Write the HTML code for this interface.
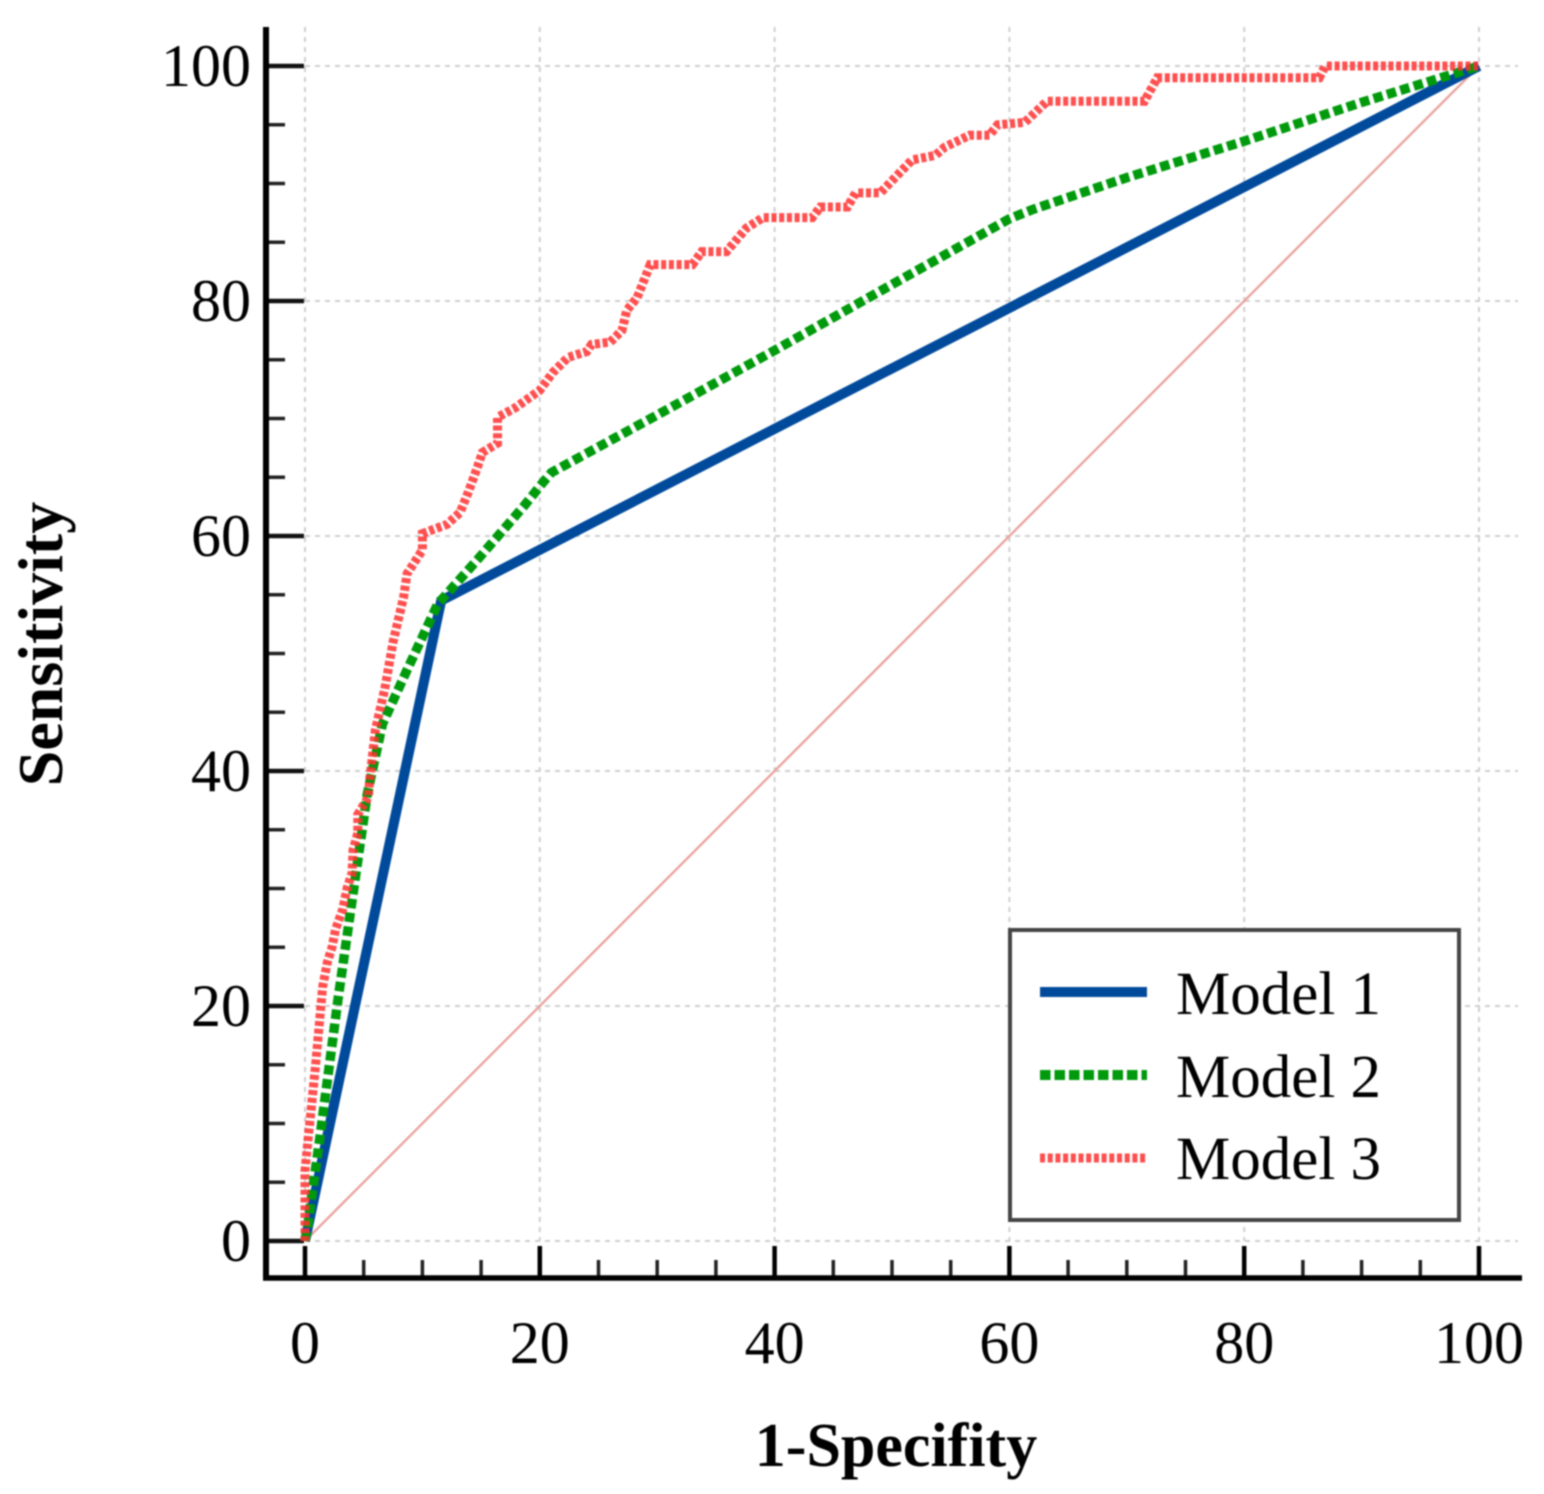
<!DOCTYPE html>
<html lang="en">
<head>
<meta charset="utf-8">
<title>ROC curves</title>
<style>
html,body{margin:0;padding:0;background:#fff;width:1544px;height:1494px;overflow:hidden}
svg{display:block;filter:blur(0.8px)}
text{font-family:"Liberation Serif","Times New Roman",serif;fill:#000}
</style>
</head>
<body>
<svg id="chart" xmlns="http://www.w3.org/2000/svg" width="1544" height="1494" viewBox="0 0 1544 1494">
  <rect width="1544" height="1494" fill="#fff"/>
  <g id="grid"></g>
  <g id="ticks"></g>
  <g id="labels"></g>
  <g id="series"></g>
  <line x1="266" y1="27" x2="266" y2="1280" stroke="#000" stroke-width="6"/>
  <line x1="263" y1="1278" x2="1522" y2="1278" stroke="#000" stroke-width="5.5"/>
  <text x="896" y="1466" font-size="62" font-weight="bold" text-anchor="middle">1-Specifity</text>
  <text transform="translate(62 644) rotate(-90)" font-size="64" font-weight="bold" text-anchor="middle">Sensitivity</text>
  <g>
    <rect x="1010" y="930" width="449" height="290" fill="#fff" stroke="#444" stroke-width="4"/>
    <line x1="1040" y1="992" x2="1147" y2="992" stroke="#004a9c" stroke-width="10"/>
    <line x1="1040" y1="1075" x2="1147" y2="1075" stroke="#009a0c" stroke-width="10" stroke-dasharray="10.5 4"/>
    <line x1="1040" y1="1158" x2="1147" y2="1158" stroke="#ff3030" stroke-width="9" stroke-dasharray="5 2.7" opacity="0.85"/>
    <text x="1176" y="1014" font-size="61">Model 1</text>
    <text x="1176" y="1097" font-size="61">Model 2</text>
    <text x="1176" y="1179" font-size="61">Model 3</text>
  </g>
</svg>
<script>
// Chart data
const xTickLabels = [0, 20, 40, 60, 80, 100];
const yTickLabels = [0, 20, 40, 60, 80, 100];
const minorTicks = [5, 10, 15, 25, 30, 35, 45, 50, 55, 65, 70, 75, 85, 90, 95];
const referenceX = [0, 100];
const referenceY = [0, 100];
const model1X = [0, 11.6, 100];
const model1Y = [0, 54.5, 100];
const model2X = [0, 0.2, 0.6, 1.2, 2.8, 5.3, 6.6, 8.7, 11.3, 14.7, 18.7, 20.3, 21, 30, 40, 50, 60, 62, 70, 80, 90, 100];
const model2Y = [0, 1, 4, 8.3, 20.5, 38, 44, 48.6, 54.2, 58, 62.6, 64.6, 65.4, 70.3, 75.8, 81.4, 87, 87.8, 90.5, 93.6, 96.9, 100];
const model3X = [0, 0, 0.2, 0.5, 0.9, 1.3, 1.5, 1.9, 2.3, 2.6, 3.2, 3.6, 4, 4.1, 4.5, 4.5, 5.4, 5.5, 6, 6.8, 7.5, 8.4, 8.7, 10, 10, 12.1, 13.2, 13.9, 14.7, 15.1, 16.4, 16.4, 17.9, 20, 21.1, 22.4, 24, 24.4, 26, 27, 27.4, 28.3, 29.4, 33, 33.8, 35.9, 37.6, 39, 43.2, 43.9, 46.2, 46.9, 49, 51.7, 53.7, 54.5, 56.6, 58.3, 59, 61.3, 63.2, 71.5, 72.6, 86.4, 86.9, 100];
const model3Y = [0, 6, 8, 11, 15, 19.4, 21.6, 23.7, 25, 26.5, 28.2, 30.1, 31.3, 33.3, 34.7, 36.3, 37.8, 39.2, 43.5, 47, 51, 54.8, 56.8, 58.8, 60.2, 61, 62, 63.7, 65.9, 67.1, 67.9, 70.1, 70.9, 72.4, 73.9, 75.2, 75.7, 76.3, 76.5, 77.5, 79.2, 80.3, 83.1, 83.1, 84.2, 84.2, 86.2, 87.1, 87.1, 88, 88, 89.2, 89.2, 92, 92.4, 93.1, 94.1, 94.1, 95, 95.2, 97, 97, 99, 99, 100, 100];

const SVG_NS = 'http://www.w3.org/2000/svg';
const xPos = v => 305 + v * 11.74;
const yPos = v => 1241 - v * 11.75;

function make(tag, parent, props, text) {
  const el = document.createElementNS(SVG_NS, tag);
  for (const k in props) el.setAttribute(k, props[k]);
  if (text !== undefined) el.textContent = text;
  parent.appendChild(el);
  return el;
}
const gridG = document.getElementById('grid');
const ticksG = document.getElementById('ticks');
const labelsG = document.getElementById('labels');
const seriesG = document.getElementById('series');

xTickLabels.forEach(v => {
  const g = make('line', gridG, {x1: xPos(v), x2: xPos(v), y1: 27, y2: 1241, stroke: '#cfcfcf', 'stroke-width': 2, 'stroke-dasharray': '5 5'});
  
  
  const t = make('line', ticksG, {x1: xPos(v), x2: xPos(v), y1: 1246, y2: 1278, stroke: '#000', 'stroke-width': 4.5});
  
  
  const l = make('text', labelsG, {x: xPos(v), y: 1363, 'font-size': 60, 'text-anchor': 'middle'}, v);
  
  
});
yTickLabels.forEach(v => {
  const g = make('line', gridG, {x1: 305, x2: 1518, y1: yPos(v), y2: yPos(v), stroke: '#cfcfcf', 'stroke-width': 2, 'stroke-dasharray': '5 5'});
  
  
  const t = make('line', ticksG, {x1: 266, x2: 304, y1: yPos(v), y2: yPos(v), stroke: '#111', 'stroke-width': 4.5});
  
  
  const l = make('text', labelsG, {x: 251, y: yPos(v) + 20, 'font-size': 60, 'text-anchor': 'end'}, v);
  
  
});
minorTicks.forEach(v => {
  const tx = make('line', ticksG, {x1: xPos(v), x2: xPos(v), y1: 1260, y2: 1278, stroke: '#222', 'stroke-width': 3.5});
  
  
  const ty = make('line', ticksG, {x1: 266, x2: 285, y1: yPos(v), y2: yPos(v), stroke: '#222', 'stroke-width': 3.5});
  
  
});

function pointsOf(xs, ys) {
  return xs.map((x, i) => xPos(x).toFixed(1) + ',' + yPos(ys[i]).toFixed(1)).join(' ');
}
const refLine = make('polyline', seriesG, {points: pointsOf(referenceX, referenceY), fill: 'none', stroke: '#e9a5a0', 'stroke-width': 2.4});


const line1 = make('polyline', seriesG, {points: pointsOf(model1X, model1Y), fill: 'none', stroke: '#004a9c', 'stroke-width': 10, 'stroke-linejoin': 'miter'});


const line2 = make('polyline', seriesG, {points: pointsOf(model2X, model2Y), fill: 'none', stroke: '#009a0c', 'stroke-width': 9.5, 'stroke-dasharray': '9.5 4.5'});


const line3 = make('polyline', seriesG, {points: pointsOf(model3X, model3Y), fill: 'none', stroke: '#ff3030', 'stroke-width': 9, 'stroke-dasharray': '5 2.7', opacity: 0.85});


</script>
</body>
</html>
